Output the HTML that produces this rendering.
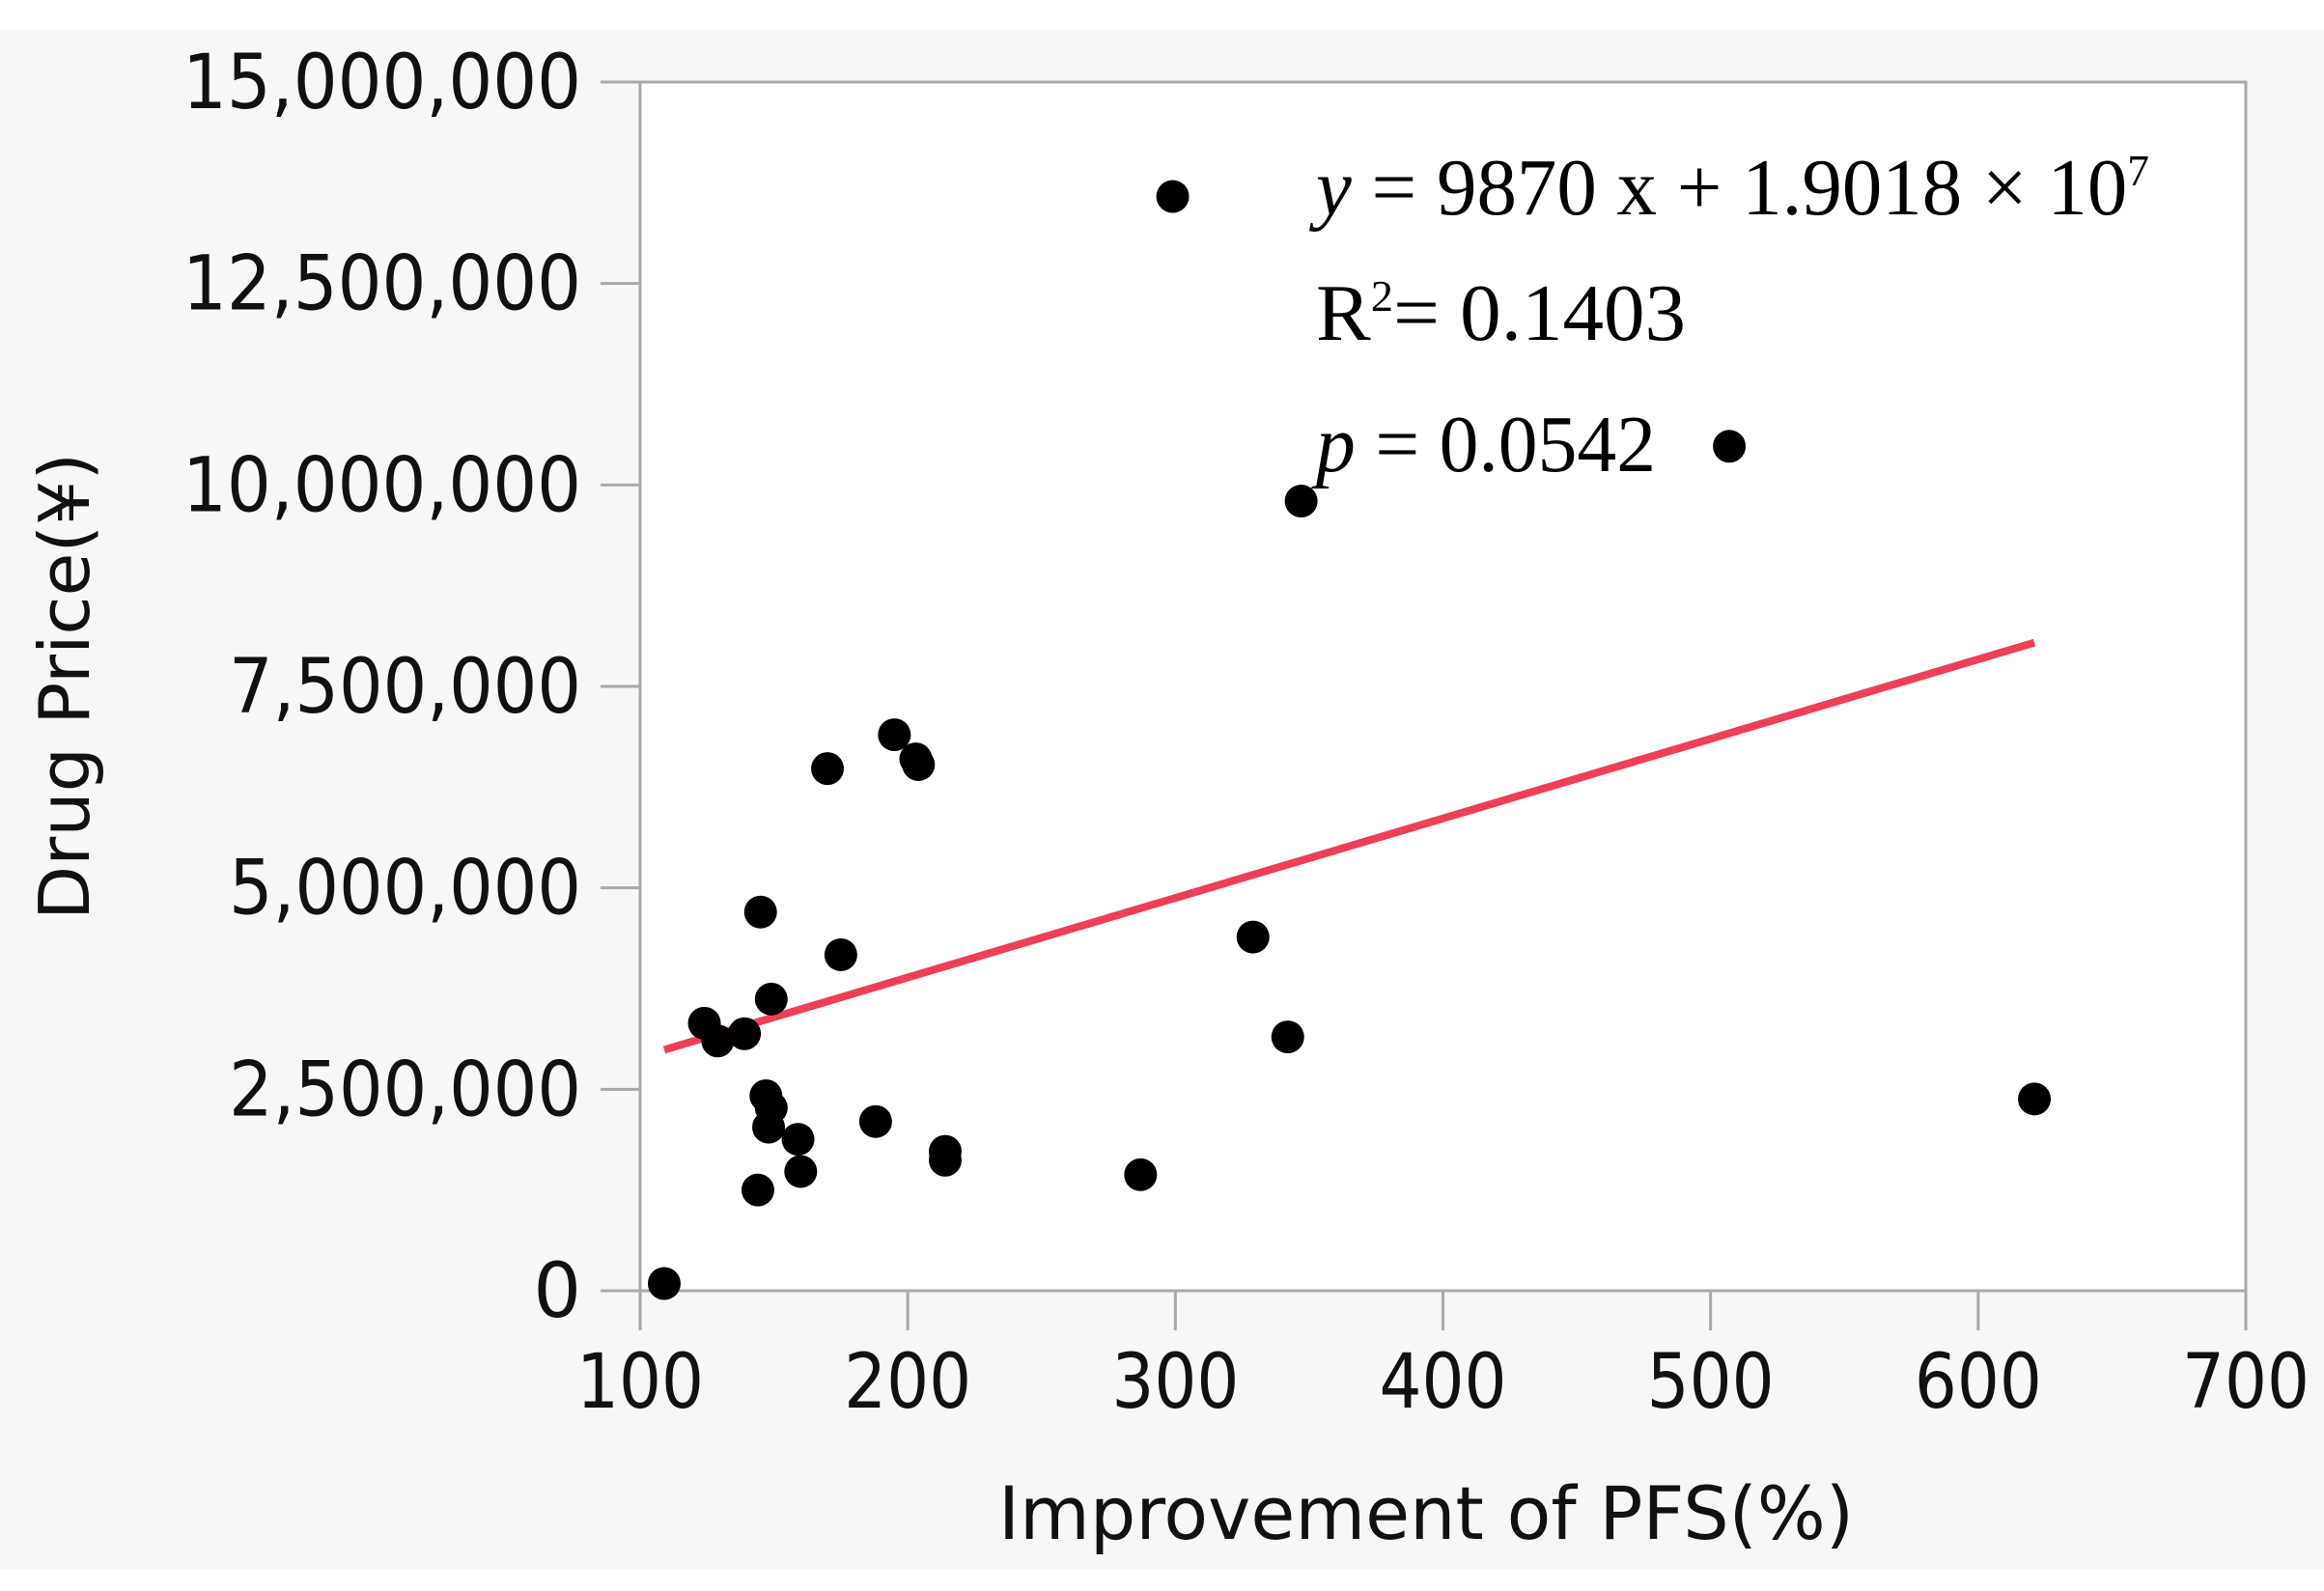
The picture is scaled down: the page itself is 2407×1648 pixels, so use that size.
<!DOCTYPE html>
<html><head><meta charset="utf-8"><style>
html,body{margin:0;padding:0;background:#fff;}
svg{display:block;}
</style></head><body>
<svg id="chart" width="2407" height="1648" viewBox="0 0 2407 1648" xmlns="http://www.w3.org/2000/svg">
<rect x="0" y="31" width="2407" height="1594" fill="#f7f7f7"/>
<rect x="663" y="85" width="1663" height="1252" fill="#ffffff" stroke="#a8a8a8" stroke-width="3"/>
<g id="axes"></g>
<g id="marks"></g>
<text transform="translate(92,711) rotate(-90)" text-anchor="middle" font-family="DejaVu Sans, sans-serif" font-size="72" fill="#111" textLength="484" lengthAdjust="spacingAndGlyphs">Drug Price(¥)</text>
<text x="1477" y="1594" text-anchor="middle" font-family="DejaVu Sans, sans-serif" font-size="76" fill="#111" textLength="886" lengthAdjust="spacingAndGlyphs">Improvement of PFS(%)</text>
<g font-family="Liberation Serif, serif" font-size="84" fill="#000">
<text x="1363" y="222" textLength="863" lengthAdjust="spacingAndGlyphs"><tspan font-style="italic">y</tspan> = 9870 x + 1.9018 × 10<tspan font-size="46" dy="-30">7</tspan></text>
<text x="1363" y="352" textLength="383" lengthAdjust="spacingAndGlyphs">R<tspan font-size="46" dy="-30">2</tspan><tspan dy="30">= 0.1403</tspan></text>
<text x="1363" y="488" textLength="352" lengthAdjust="spacingAndGlyphs"><tspan font-style="italic">p</tspan> = 0.0542</text>
</g>
</svg>
<script>
const xTicks = [100,200,300,400,500,600,700];
const yTicks = [0,2500000,5000000,7500000,10000000,12500000,15000000];
const yTickLabels = ["0","2,500,000","5,000,000","7,500,000","10,000,000","12,500,000","15,000,000"];
const pfsValues = [109,124,129,139,145,144,147,149,149,148,159,160,170,175,188,195,203,204,214,214,287,299,329,342,347,507,621];
const priceValues = [90000,3320000,3100000,3190000,4700000,1250000,2420000,2270000,3620000,2030000,1880000,1480000,6480000,4170000,2100000,6900000,6600000,6530000,1730000,1620000,1440000,13580000,4390000,3150000,9800000,10480000,2380000];
const fitSlope = [9870];
const fitIntercept = [1914000];
const fitRange = [109,621];

const L=663,R=2326,T=85,B=1337;
const xs=v=>L+(v-100)/600*(R-L);
const ys=v=>B-v/15000000*(B-T);
const NS='http://www.w3.org/2000/svg';
const axes=document.getElementById('axes'), marks=document.getElementById('marks');
function mk(tag,attrs,parent){const e=document.createElementNS(NS,tag);for(const k in attrs)e.setAttribute(k,attrs[k]);parent.appendChild(e);return e;}
xTicks.forEach(v=>{
  const l=mk('line',{x1:xs(v),x2:xs(v),y1:B,y2:1378,stroke:'#a8a8a8','stroke-width':3},axes);
  
  
  const t=mk('text',{x:xs(v),y:1458,'text-anchor':'middle','font-family':'DejaVu Sans, sans-serif','font-size':78,fill:'#111',textLength:132,lengthAdjust:'spacingAndGlyphs'},axes);
  
  
  t.textContent=v;
});
yTicks.forEach((v,i)=>{
  const l=mk('line',{x1:622,x2:L,y1:ys(v),y2:ys(v),stroke:'#a8a8a8','stroke-width':3},axes);
  
  
  const t=mk('text',{x:602,y:ys(v)+27,'text-anchor':'end','font-family':'DejaVu Sans, sans-serif','font-size':78,fill:'#111'},axes);
  
  
  const lab=yTickLabels[i];
  if(lab.length>1) t.setAttribute('textLength', lab.length>9?413:365);
  t.setAttribute('lengthAdjust','spacingAndGlyphs');
  t.textContent=lab;
});
const fl=mk('line',{x1:xs(fitRange[0]),y1:ys(fitSlope[0]*fitRange[0]+fitIntercept[0]),x2:xs(fitRange[1]),y2:ys(fitSlope[0]*fitRange[1]+fitIntercept[0]),stroke:'#ee3f55','stroke-width':8},marks);


pfsValues.forEach((v,i)=>{
  const c=mk('circle',{cx:xs(v),cy:ys(priceValues[i]),r:17,fill:'#000'},marks);
  
  
});
</script>
</body></html>
